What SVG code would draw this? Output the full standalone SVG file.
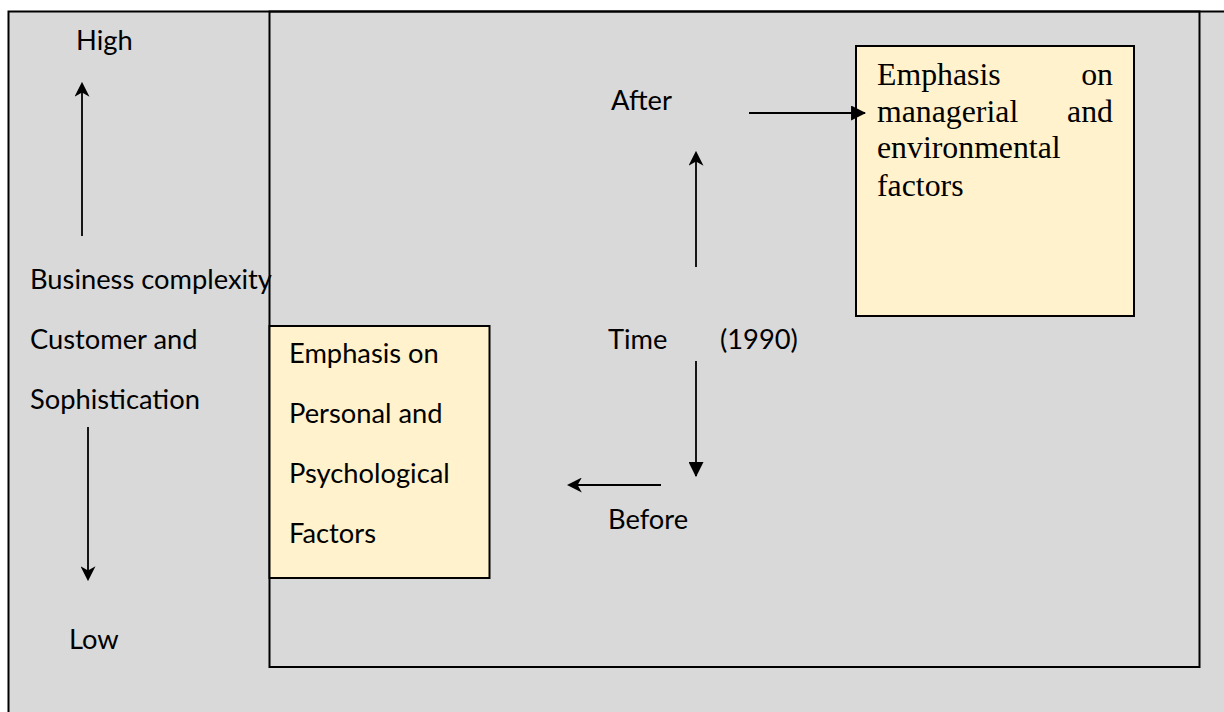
<svg xmlns="http://www.w3.org/2000/svg" width="1224" height="712" viewBox="0 0 1224 712">
  <defs>
    <style>
      .frame { fill: none; stroke: #000; stroke-width: 2; }
      .box { fill: #fff2cc; stroke: #000; stroke-width: 2; }
      .sans { font-family: Lato, "Liberation Sans", sans-serif; font-size: 27.3px; fill: #000; }
      .serif { font-family: "Liberation Serif", "Times New Roman", serif; font-size: 31.8px; fill: #000; }
      .conn { stroke: #000; stroke-width: 1.8; fill: none; }
    </style>
    <marker id="stealth" viewBox="0 0 14 14" refX="12" refY="7" markerWidth="15" markerHeight="15" markerUnits="userSpaceOnUse" orient="auto">
      <path d="M0,0 L14,7 L0,14 L4,7 z" fill="#000"/>
    </marker>
    <marker id="tri" viewBox="0 0 14 14" refX="13" refY="7" markerWidth="15" markerHeight="15" markerUnits="userSpaceOnUse" orient="auto">
      <path d="M0,0 L14,7 L0,14 z" fill="#000"/>
    </marker>
  </defs>

  <!-- page and outer frame -->
  <rect x="0" y="0" width="1224" height="712" fill="#ffffff"/>
  <rect x="8" y="11" width="1216" height="701" fill="#d9d9d9"/>
  <path class="frame" d="M8.5,712 V11.5 H1224"/>

  <!-- inner panel -->
  <rect id="panel" class="frame" x="269.5" y="11.5" width="930" height="655.5"/>

  <!-- vertical scale labels -->
  <g id="scale">
    <text class="sans" x="76" y="50">High</text>
    <text class="sans" x="30" y="289">Business complexity</text>
    <text class="sans" x="30" y="349">Customer and</text>
    <text class="sans" x="30" y="409">Sophistication</text>
    <text class="sans" x="69" y="649">Low</text>
  </g>

  <!-- time axis labels -->
  <g id="time">
    <text class="sans" x="611" y="110">After</text>
    <text class="sans" x="608" y="349">Time</text>
    <text class="sans" x="720" y="349">(1990)</text>
    <text class="sans" x="608" y="529">Before</text>
  </g>

  <!-- personal/psychological emphasis -->
  <g id="box-before">
    <rect class="box" x="269.5" y="326" width="220" height="252"/>
    <text class="sans" x="289" y="363">Emphasis on</text>
    <text class="sans" x="289" y="423">Personal and</text>
    <text class="sans" x="289" y="483">Psychological</text>
    <text class="sans" x="289" y="543">Factors</text>
  </g>

  <!-- managerial/environmental emphasis -->
  <g id="box-after">
    <rect class="box" x="856" y="46" width="278" height="270"/>
    <text class="serif" x="877" y="85">Emphasis</text>
    <text class="serif" x="1113" y="85" text-anchor="end">on</text>
    <text class="serif" x="877" y="122">managerial</text>
    <text class="serif" x="1113" y="122" text-anchor="end">and</text>
    <text class="serif" x="877" y="158">environmental</text>
    <text class="serif" x="877" y="196">factors</text>
  </g>

  <!-- connectors -->
  <g id="connectors">
    <line class="conn" x1="82" y1="236" x2="82" y2="84" marker-end="url(#stealth)"/>
    <line class="conn" x1="88" y1="427" x2="88" y2="579" marker-end="url(#stealth)"/>
    <line class="conn" x1="696" y1="267" x2="696" y2="153" marker-end="url(#stealth)"/>
    <line class="conn" x1="696" y1="361" x2="696" y2="476" marker-end="url(#tri)"/>
    <line class="conn" x1="661" y1="485" x2="569" y2="485" marker-end="url(#stealth)"/>
    <line class="conn" x1="749" y1="113" x2="865" y2="113" marker-end="url(#tri)"/>
  </g>
</svg>
